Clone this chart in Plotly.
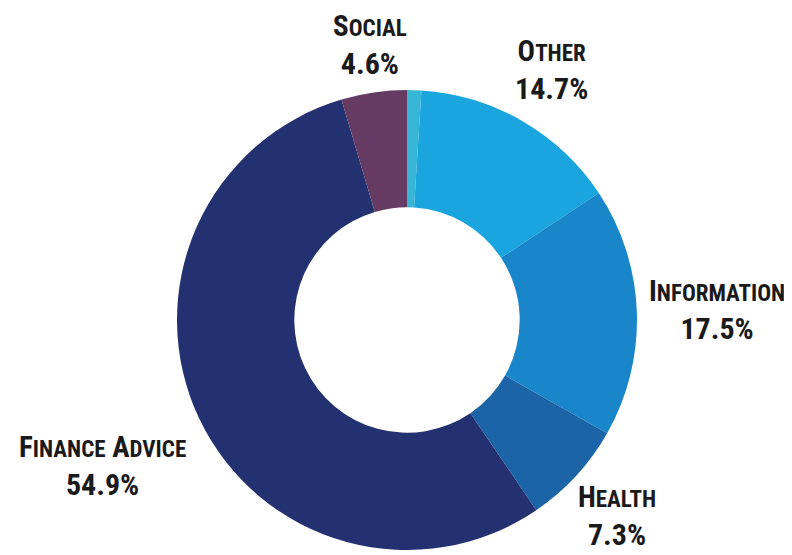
import plotly.graph_objects as go

categories = ["Unlabeled", "Other", "Information", "Health", "Finance Advice", "Social"]
values = [1.0, 14.7, 17.5, 7.3, 54.9, 4.6]
colors = ["#38b6d6", "#1ba5df", "#1a86ca", "#1b64a8", "#233170", "#653b63"]

W, H = 784, 547   # page body has an 8px margin
OFF = 8

fig = go.Figure(go.Pie(
    labels=categories, values=values, hole=0.49, sort=False, direction="clockwise",
    rotation=0, marker=dict(colors=colors, line=dict(width=0)),
    textinfo="none", hoverinfo="label+percent", showlegend=False,
    domain=dict(x=[(407-230-OFF)/W, (407+230-OFF)/W],
                y=[(H-(320-OFF)-230)/H, (H-(320-OFF)+230)/H]),
))

FONT = "Roboto Condensed, DejaVu Sans Condensed, sans-serif"
big, small, pct = 29, 23, 30

def sc(word):
    out = []
    for p in word.split(" "):
        out.append(p[0] + f"<span style='font-size:{small}px'>{p[1:].upper()}</span>")
    return " ".join(out)

label_pos = {
    "Social": (370, 45),
    "Other": (551, 70),
    "Information": (717, 310),
    "Health": (617, 516),
    "Finance Advice": (102, 466),
}
for cat, val in zip(categories, values):
    if cat not in label_pos:
        continue
    px, py = label_pos[cat]
    fig.add_annotation(
        x=(px-OFF)/W, y=1-(py-OFF)/H, xref="paper", yref="paper", showarrow=False,
        xanchor="center", yanchor="middle",
        text=f"{sc(cat)}<br><span style='font-size:{pct}px'>{val:.1f}%</span>", align="center",
        font=dict(family=FONT, size=big, color="#1a1a1a", weight="bold"),
    )

fig.update_layout(
    width=W, height=H, margin=dict(l=0, r=0, t=0, b=0),
    paper_bgcolor="white", plot_bgcolor="white",
)
fig.write_html("out.html")
